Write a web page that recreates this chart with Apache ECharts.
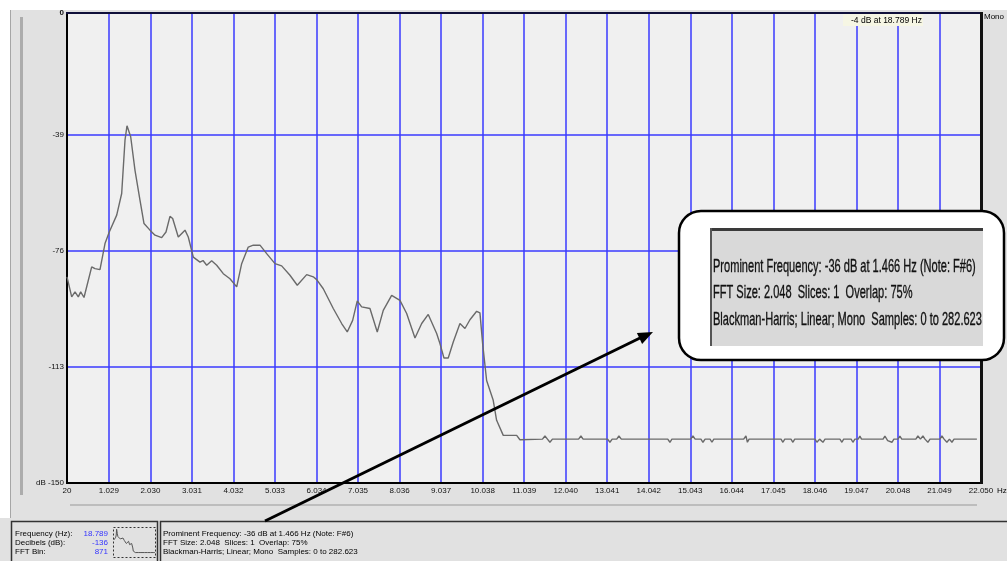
<!DOCTYPE html>
<html>
<head>
<meta charset="utf-8">
<title>Frequency Analysis</title>
<script src="https://cdn.jsdelivr.net/npm/echarts@6/dist/echarts.min.js"></script>
<style>
  html, body { margin: 0; padding: 0; background: #e1e1e1; }
  #chart { width: 1007px; height: 561px; }
</style>
</head>
<body>
<div id="chart"></div>
<script>
// Tick positions of the frequency (Hz) and level (dB) axes
const freqTicks = [20, 1029, 2030, 3031, 4032, 5033, 6034, 7035, 8036, 9037, 10038,
  11039, 12040, 13041, 14042, 15043, 16044, 17045, 18046, 19047, 20048, 21049, 22050];
const dbTicks = [0, -39, -76, -113, -150];

// Spectrum: frequency in Hz and level in dB
const spectrumHz = [
  20, 133, 213, 292, 350, 430, 615, 695, 815, 936, 1039, 1218, 1338, 1418, 1466, 1555,
  1659, 1779, 1876, 2020, 2141, 2302, 2406, 2502, 2567, 2702, 2864, 2943, 3064, 3225,
  3298, 3387, 3507, 3628, 3787, 3948, 4110, 4230, 4389, 4510, 4671, 4833, 5033, 5194,
  5394, 5570, 5797, 5956, 6038, 6197, 6438, 6640, 6775, 6905, 7016, 7122, 7322, 7498,
  7643, 7845, 8045, 8207, 8407, 8569, 8727, 8930, 9009, 9106, 9209, 9330, 9491, 9612,
  9732, 9894, 9973, 10038, 10134, 10293, 10375, 10535, 10858, 10937,
  11480, 11540, 11600, 11660, 11720, 12350, 12407, 12460, 13050, 13106, 13160, 13270,
  13323, 13380, 14500, 14552, 14600, 15050, 15107, 15160, 15300, 15348, 15400, 15520,
  15565, 15610, 16330, 16384, 16420, 16460, 17230, 17276, 17320, 17470, 17517, 17560,
  18050, 18095, 18160, 18240, 18290, 18650, 18698, 18740, 18920, 18963, 19010, 19090,
  19131, 19170, 19690, 19734, 19800, 19903, 19950, 20050, 20095, 20140, 20480, 20529,
  20590, 20650, 20700, 20770, 20820, 21060, 21108, 21160, 21228, 21290, 21349, 21400,
  21951
];
const spectrumDb = [
  -84.2, -90.6, -89, -90.6, -89, -90.8, -81, -81.6, -81.9, -73.6, -69.9, -64.5, -57.6, -40.6, -36, -39.5,
  -50.2, -59.7, -67.2, -69.3, -70.9, -71.7, -69.9, -64.9, -65.6, -71.5, -69.3, -71.5, -77.9, -79.5,
  -79, -80.5, -79.1, -80.5, -83.2, -84.8, -87.4, -80, -74.7, -74.1, -74.1, -76.8, -80, -80.7,
  -83.7, -86.9, -83.5, -84.2, -85.1, -88, -94.3, -99.1, -101.8, -98.1, -91.9, -93.8, -94.3, -101.8,
  -94.9, -90.1, -91.7, -95.9, -103.7, -99.1, -96.2, -102.3, -105.5, -110.1, -110.1, -105, -99.1, -100.7,
  -97.9, -95.2, -95.7, -105.5, -117.3, -123.6, -130, -134.8, -134.8, -136.2,
  -136, -135, -136, -137, -136, -136, -135, -136, -136, -137, -136, -136,
  -135, -136, -136, -137, -136, -136, -135, -136, -136, -137, -136, -136,
  -137, -136, -136, -135, -137, -136, -136, -137, -136, -136, -137, -136,
  -136, -137, -136, -137, -136, -136, -137, -136, -136, -137, -136, -136,
  -135, -136, -136, -135, -136.5, -137, -136, -136, -135, -136, -136, -135,
  -136, -135, -136, -137, -136, -136, -135, -136, -137, -136, -137, -136,
  -136
];

// Texts of the cursor readout and the analysis summary
const cursorText = '-4 dB at 18.789 Hz';
const readoutLabels = ['Frequency (Hz):', 'Decibels (dB):', 'FFT Bin:'];
const readoutValues = ['18.789', '-136', '871'];
const summaryLines = [
  'Prominent Frequency: -36 dB at 1.466 Hz (Note: F#6)',
  'FFT Size: 2.048  Slices: 1  Overlap: 75%',
  'Blackman-Harris; Linear; Mono  Samples: 0 to 282.623'
];

const FONT = '"Liberation Sans", Arial, sans-serif';
const spectrum = spectrumHz.map((hz, i) => [hz, spectrumDb[i]]);

// 1029 -> "1.029", 22050 -> "22.050"
function formatHz(v) {
  v = Math.round(v);
  if (v < 1000) return String(v);
  return Math.floor(v / 1000) + '.' + String(v % 1000).padStart(3, '0');
}

const chart = echarts.init(document.getElementById('chart'), null, { renderer: 'canvas' });

const graphics = [];
function text(x, y, str, opts) {
  graphics.push(Object.assign({
    type: 'text', x: x, y: y, z: 50,
    style: Object.assign({
      text: str, fill: '#000', fontSize: 8, fontFamily: FONT,
      align: 'left', verticalAlign: 'middle'
    }, (opts && opts.style) || {})
  }, (opts && opts.props) || {}));
}
function rect(x, y, w, h, style, z) {
  graphics.push({ type: 'rect', z: z === undefined ? -1 : z, shape: { x: x, y: y, width: w, height: h }, style: style });
}

// window chrome around the plot
rect(0, 0, 1007, 10, { fill: '#ffffff' });
rect(0, 0, 10, 518, { fill: '#ffffff' });
rect(10, 10, 1, 508, { fill: '#a6a6a6' });
rect(20, 17, 3, 478, { fill: '#acacac' });
rect(70, 504, 907, 2, { fill: '#bdbdbd' });

// dark frame on the top and right edges of the plot
rect(66, 12, 916, 2, { fill: '#10103a' }, 20);
rect(980, 12, 3, 472, { fill: '#111111' }, 20);

// status bar panels
rect(11.5, 521.5, 146, 45, { fill: 'none', stroke: '#333', lineWidth: 1.5 }, 5);
rect(160.5, 521.5, 850, 45, { fill: 'none', stroke: '#333', lineWidth: 1.5 }, 5);
rect(113.5, 527.5, 42, 30, { fill: 'none', stroke: '#333', lineWidth: 1, lineDash: [2, 2] }, 5);

const rowY = [533.3, 542.7, 551.8];
readoutLabels.forEach((s, i) => text(15, rowY[i], s));
readoutValues.forEach((s, i) => text(108, rowY[i], s, { style: { align: 'right', fill: '#3333ff' } }));
summaryLines.forEach((s, i) => text(163, rowY[i], s, { style: { fontSize: 8 } }));

// axis captions
text(997, 490.5, 'Hz', { style: { fontSize: 8 } });
text(984, 17, 'Mono', { style: { fontSize: 8 } });

// cursor readout tip
rect(843, 14, 80, 12, { fill: '#f6f6e4' }, 40);
text(851, 20.5, cursorText, { style: { fontSize: 8.5 } });

// callout arrow
graphics.push({ type: 'line', z: 100, shape: { x1: 265, y1: 521, x2: 640, y2: 338 },
  style: { stroke: '#000', lineWidth: 3 } });
graphics.push({ type: 'polygon', z: 100, shape: { points: [[653, 332], [642.1, 343.9], [636.9, 333.1]] },
  style: { fill: '#000' } });

// enlarged summary callout
graphics.push({ type: 'rect', z: 100, shape: { x: 679, y: 211, width: 325, height: 149, r: 22 },
  style: { fill: '#ffffff', stroke: '#000', lineWidth: 2.5 } });
rect(710, 228, 273, 118, { fill: '#d9d9d9' }, 101);
rect(710, 228, 273, 3, { fill: '#3a3a3a' }, 102);
rect(710, 228, 2, 118, { fill: '#555555' }, 102);
const calloutY = [266.5, 293, 320];
summaryLines.forEach((s, i) => graphics.push({
  type: 'text', x: 713, y: calloutY[i], z: 103, scaleX: 0.597,
  style: { text: s, fill: '#111', fontSize: 18.5, fontFamily: FONT, align: 'left', verticalAlign: 'middle',
    stroke: '#111', lineWidth: 0.35 }
}));

const option = {
  animation: false,
  backgroundColor: '#e1e1e1',
  grid: [
    { left: 67, top: 13, width: 914, height: 470, show: true, backgroundColor: '#f0f0f0',
      borderColor: '#000', borderWidth: 2, outerBoundsMode: 'none' },
    { left: 114, top: 528, width: 41, height: 28, outerBoundsMode: 'none' }
  ],
  xAxis: [
    { type: 'value', gridIndex: 0, min: 20, max: 22050,
      axisLine: { show: true, onZero: false, lineStyle: { color: '#000', width: 2 } },
      axisTick: { show: false, customValues: freqTicks },
      axisLabel: { customValues: freqTicks, formatter: formatHz, fontSize: 8, color: '#111',
        fontFamily: FONT, margin: 4 },
      splitLine: { show: true, lineStyle: { color: '#3a3aff', width: 1.5 } } },
    { type: 'value', gridIndex: 1, min: 20, max: 22050, show: false }
  ],
  yAxis: [
    { type: 'value', gridIndex: 0, min: -150, max: 0,
      axisLine: { show: true, onZero: false, lineStyle: { color: '#000', width: 2 } },
      axisTick: { show: false, customValues: dbTicks },
      axisLabel: { customValues: dbTicks, fontSize: 8, color: '#111', fontFamily: FONT, margin: 3,
        formatter: v => v === -150 ? 'dB -150' : (v === 0 ? '{b|0}' : String(v)),
        rich: { b: { fontWeight: 'bold', fontSize: 8, fontFamily: FONT, color: '#111' } } },
      splitLine: { show: true, lineStyle: { color: '#3a3aff', width: 1.5 } } },
    { type: 'value', gridIndex: 1, min: -150, max: -36, show: false }
  ],
  series: [
    { type: 'line', xAxisIndex: 0, yAxisIndex: 0, data: spectrum, showSymbol: false, silent: true,
      lineStyle: { color: '#6a6a6a', width: 1.4 }, z: 3 },
    { type: 'line', xAxisIndex: 1, yAxisIndex: 1, data: spectrum, showSymbol: false, silent: true,
      lineStyle: { color: '#555555', width: 1 }, z: 3 }
  ],
  graphic: graphics
};

chart.setOption(option);
</script>
</body>
</html>
